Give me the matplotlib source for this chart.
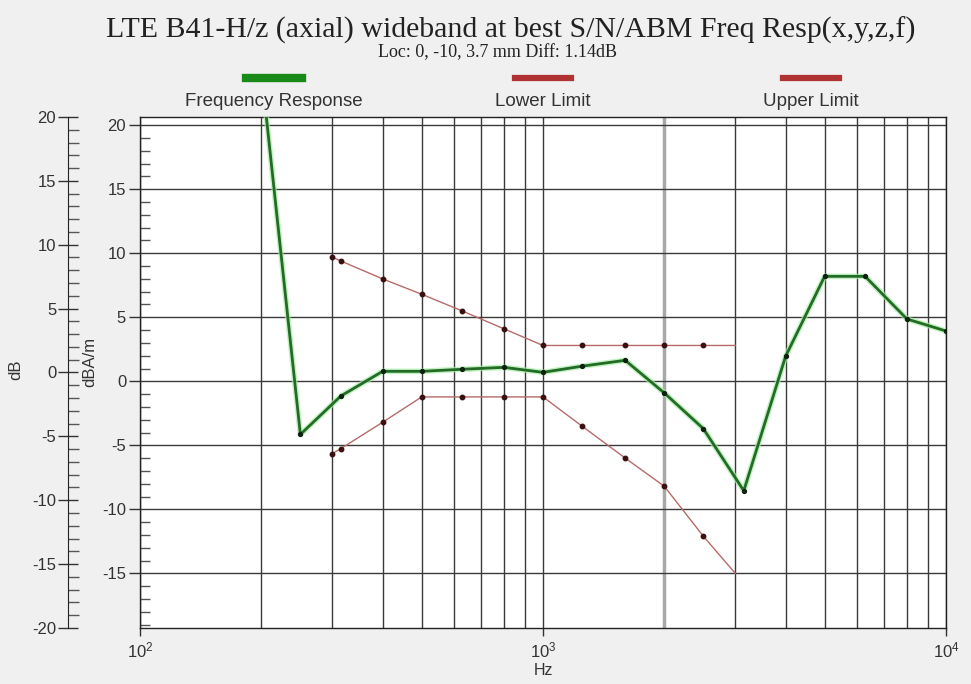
import matplotlib.pyplot as plt
from matplotlib.ticker import MultipleLocator, FixedLocator, NullFormatter
from matplotlib.lines import Line2D

# measured response, third-octave bands
resp_freq = [200, 250, 315, 400, 500, 630, 800, 1000, 1250, 1600,
             2000, 2500, 3150, 4000, 5000, 6300, 8000, 10000]
resp_db = [24.3, -4.15, -1.15, 0.78, 0.78, 0.94, 1.09, 0.70, 1.18, 1.64,
           -0.91, -3.7, -8.55, 1.95, 8.2, 8.2, 4.87, 3.93]

# limit mask (last point is the open end of the mask, no marker)
limit_freq = [300, 315, 400, 500, 630, 800, 1000, 1250, 1600, 2000, 2500, 3000]
upper_db = [9.7, 9.4, 8.0, 6.8, 5.5, 4.1, 2.8, 2.8, 2.8, 2.8, 2.8, 2.8]
lower_db = [-5.65, -5.26, -3.2, -1.22, -1.22, -1.22, -1.22, -3.5, -6.0, -8.2, -12.1, -15.0]

grid_freq = [200, 300, 400, 500, 600, 700, 800, 900,
             3000, 4000, 5000, 6000, 7000, 8000, 9000]

legend_names = ["Frequency Response", "Lower Limit", "Upper Limit"]

GREEN = "#236b26"
RED = "#b86a6a"
BG = "#f0f0f0"
TXT = "#333333"

plt.rcParams["font.family"] = ["Liberation Sans", "DejaVu Sans"]
plt.rcParams["axes.unicode_minus"] = False

fig = plt.figure(figsize=(9.71, 6.84), dpi=100, facecolor=BG)
ax = fig.add_axes([0.1442, 0.0819, 0.830, 0.7471])
ax.set_facecolor("white")

ax.set_xscale("log")
ax.set_xlim(100, 10000)
ax.set_ylim(-19.27, 20.65)

# grid
ax.xaxis.set_major_locator(FixedLocator([100, 1000, 10000]))
ax.xaxis.set_minor_locator(FixedLocator(grid_freq))
ax.xaxis.set_minor_formatter(NullFormatter())
ax.yaxis.set_major_locator(MultipleLocator(5))
ax.yaxis.set_minor_locator(MultipleLocator(1))
ax.grid(True, which="major", color="#3a3a3a", lw=1.0)
ax.grid(True, which="minor", axis="x", color="#3a3a3a", lw=1.0)
ax.axvline(2000, color="#a8a8a8", lw=2.5, zorder=0.9)

ax.tick_params(axis="x", which="major", direction="out", length=6, width=1,
               colors=TXT, labelsize=12, pad=3)
ax.tick_params(axis="x", which="minor", length=0)
ax.tick_params(axis="y", which="major", direction="out", length=8, width=1,
               colors=TXT, labelsize=12, pad=2)
ax.tick_params(axis="y", which="minor", direction="in", length=7, width=1,
               colors="#555555")
for s in ax.spines.values():
    s.set_color("#222222")
    s.set_linewidth(1.0)

# limit lines
for vals in (upper_db, lower_db):
    ax.plot(limit_freq, vals, color=RED, lw=1.0, zorder=3)
    ax.plot(limit_freq[:-1], vals[:-1], ls="none", marker="o", ms=3.2,
            color="#3a1010", zorder=4)

# frequency response with light halo
ax.plot(resp_freq, resp_db, color="#a6eea6", lw=4.0, alpha=0.7, zorder=4,
        solid_joinstyle="round")
ax.plot(resp_freq, resp_db, color=GREEN, lw=2.0, zorder=5,
        solid_joinstyle="round")
ax.plot(resp_freq, resp_db, ls="none", marker="o", ms=2.8, color="#102010",
        zorder=6)

ax.set_xlabel("Hz", fontsize=11.5, color=TXT, labelpad=2)
ax.set_ylabel("dBA/m", fontsize=12, color=TXT)
ax.yaxis.set_label_coords(-0.053, 0.52)

# secondary dB scale on the far left
ax2 = ax.twinx()
ax2.set_ylim(-20, 20)
ax2.yaxis.tick_left()
ax2.yaxis.set_label_position("left")
for name, s in ax2.spines.items():
    s.set_visible(name == "left")
ax2.spines["left"].set_position(("axes", -0.0893))
ax2.spines["left"].set_color("#222222")
ax2.yaxis.set_major_locator(MultipleLocator(5))
ax2.yaxis.set_minor_locator(MultipleLocator(1))
ax2.tick_params(axis="y", which="major", direction="inout", length=15, width=1,
                colors=TXT, labelsize=12, pad=1)
ax2.tick_params(axis="y", which="minor", direction="in", length=8, width=1,
                colors="#555555")
ax2.set_ylabel("dB", fontsize=12, color=TXT)
ax2.yaxis.set_label_coords(-0.145, 0.505)

# titles
fig.text(0.5258, 1 - 37.5 / 684,
         "LTE B41-H/z (axial) wideband at best S/N/ABM Freq Resp(x,y,z,f)",
         family="Liberation Serif", fontsize=21.5, color="#222222",
         ha="center", va="baseline")
fig.text(0.512, 1 - 57 / 684, "Loc: 0, -10, 3.7 mm Diff: 1.14dB",
         family="Liberation Serif", fontsize=13, color="#222222",
         ha="center", va="baseline")

# legend: coloured bar above each name
legend_x = [0.2822, 0.5593, 0.8352]
legend_col = ["#188a18", "#b03232", "#b03232"]
legend_lw = [6, 4.5, 4.5]
for x, name, c, lw in zip(legend_x, legend_names, legend_col, legend_lw):
    fig.add_artist(Line2D([x - 0.029, x + 0.029], [1 - 78 / 684] * 2,
                          color=c, lw=lw, transform=fig.transFigure))
    fig.text(x, 1 - 102 / 684, name, fontsize=13.5, color=TXT,
             ha="center", va="center")

fig.savefig("out.png", dpi=100, facecolor=BG)
